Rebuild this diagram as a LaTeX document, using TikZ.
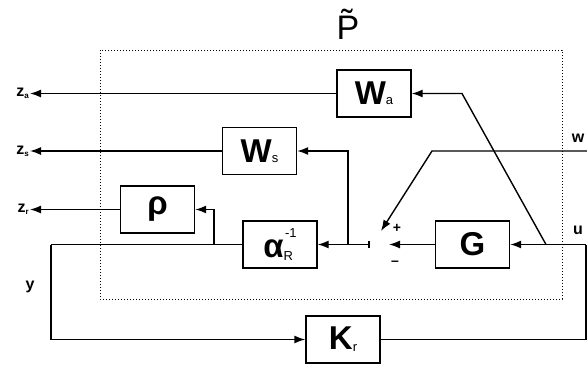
\documentclass[tikz,border=0pt]{standalone}
\usepackage{fontspec}
\setmainfont{Liberation Sans}
\usetikzlibrary{arrows.meta}
\tikzset{
  blk/.style={draw, line width=1.4pt, minimum width=74pt, minimum height=47pt, inner sep=0pt, font=\fontsize{33}{33}\selectfont\bfseries},
  sig/.style={line width=1.4pt},
  arr/.style={sig, -{Latex[length=11pt,width=8pt]}},
  lbl/.style={font=\fontsize{16}{16}\selectfont\bfseries, inner sep=1pt},
  sgn/.style={font=\fontsize{14}{14}\selectfont\bfseries, inner sep=0pt},
}
\newcommand{\smallsub}[1]{{\fontsize{13}{13}\selectfont\mdseries #1}}
\begin{document}
\begin{tikzpicture}[x=1pt,y=-1pt]
\useasboundingbox (0,0) rectangle (587,365);
% dotted boundary
\draw[dotted, line width=1pt] (100,50) rectangle (562,299);
\node[font=\fontsize{34}{34}\selectfont] (Pt) at (348,24) {\~{P}};
% blocks
\node[blk] (Wa) at (374,93.5) {W\smallsub{a}};
\node[blk] (Ws) at (259.5,151) {W\smallsub{s}};
\node[blk] (rho) at (157.5,209.5) {ρ};
\node[blk] (al) at (280,244.5) {α\raisebox{-3pt}{\smallsub{R}}\hspace{-8pt}\raisebox{20pt}{\smallsub{-1}}};
\node[blk] (G) at (472.5,244.5) {G};
\node[blk] (Kr) at (343,339.5) {K\raisebox{-2pt}{\smallsub{r}}};
% coordinates
\coordinate (sjL) at (370,244.5);
\coordinate (sjR) at (389,244.5);
\coordinate (sjT) at (381,231);
\coordinate (ubr) at (546,244.5);
\coordinate (ur) at (586,244.5);
\coordinate (wr) at (587,151);
\coordinate (wk) at (432,151);
\coordinate (wak) at (462,93.5);
\coordinate (jws) at (348,244.5);
\coordinate (jrho) at (214,244.5);
\coordinate (yL) at (51,244.5);
\coordinate (za) at (30,93.5);
\coordinate (zs) at (30,151);
\coordinate (zr) at (30,209.5);
% labels
\node[lbl, anchor=east] (lza) at (za) {z\raisebox{-2pt}{\fontsize{8}{8}\selectfont a}};
\node[lbl, anchor=east] (lzs) at (zs) {z\raisebox{-2pt}{\fontsize{8}{8}\selectfont s}};
\node[lbl, anchor=east] (lzr) at (zr) {z\raisebox{-2pt}{\fontsize{8}{8}\selectfont r}};
\node[lbl] (lw) at (578,138) {w};
\node[lbl] (lu) at (578,230) {u};
\node[lbl] (ly) at (30,287) {y};
\node[sgn] (plus) at (397,228) {+};
\node[sgn] (minus) at (395,263) {\textendash};
% signals
\draw[arr] (Wa.west) -- (za);
\draw[arr] (Ws.west) -- (zs);
\draw[arr] (rho.west) -- (zr);
\draw[arr] (ubr) -- (wak) -- (Wa.east);
\draw[arr] (jws) -- (348,151) -- (Ws.east);
\draw[arr] (jrho) -- (214,209.5) -- (rho.east);
\draw[arr] (sjL) -- (al.east);
\draw[sig] (369,241) -- (369,248);
\draw[arr] (G.west) -- (sjR);
\draw[arr] (wr) -- (wk) -- (sjT);
\draw[arr] (ur) -- (G.east);
\draw[sig] (al.west) -- (yL);
\draw[arr] (yL) -- (51,339.5) -- (Kr.west);
\draw[sig] (Kr.east) -- (586,339.5) -- (ur);
\end{tikzpicture}
\end{document}
